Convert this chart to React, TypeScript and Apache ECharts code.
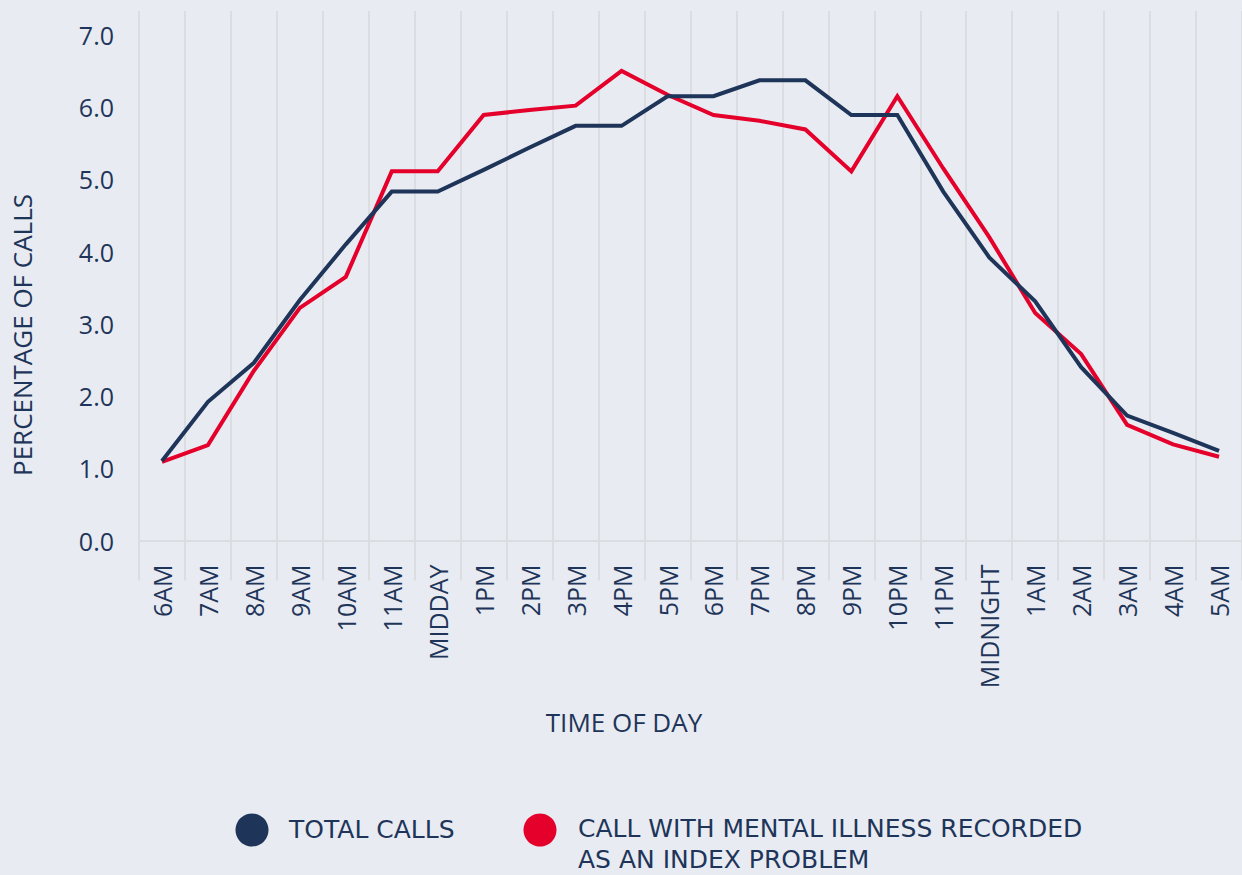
import React, { useEffect, useRef } from "react";
import * as echarts from "echarts";

const categories = ["6AM", "7AM", "8AM", "9AM", "10AM", "11AM", "MIDDAY", "1PM", "2PM", "3PM", "4PM", "5PM", "6PM", "7PM", "8PM", "9PM", "10PM", "11PM", "MIDNIGHT", "1AM", "2AM", "3AM", "4AM", "5AM"];
const totalCalls = [1.1, 1.92, 2.46, 3.33, 4.1, 4.83, 4.83, 5.13, 5.44, 5.74, 5.74, 6.15, 6.15, 6.37, 6.37, 5.89, 5.89, 4.83, 3.92, 3.31, 2.4, 1.73, 1.49, 1.24];
const mentalIllnessCalls = [1.09, 1.32, 2.35, 3.22, 3.65, 5.11, 5.11, 5.89, 5.96, 6.02, 6.5, 6.17, 5.89, 5.81, 5.69, 5.11, 6.15, 5.15, 4.2, 3.15, 2.58, 1.6, 1.33, 1.16];
const seriesNames = ["TOTAL CALLS", "CALL WITH MENTAL ILLNESS RECORDED\nAS AN INDEX PROBLEM"];
const yAxisTitle = "PERCENTAGE OF CALLS";
const xAxisTitle = "TIME OF DAY";

const NAVY = "#1e3559";
const RED = "#e4002b";
const GRID = "#dcdde1";
const BG = "#e8ebf2";
const FONT = "'Open Sans', 'Noto Sans', sans-serif";
const LEGEND_FONT = "'DejaVu Sans', sans-serif";

export default function App() {
  const ref = useRef<HTMLDivElement>(null);
  useEffect(() => {
    const chart = echarts.init(ref.current!, undefined, { renderer: "svg" });
    const redLines = seriesNames[1].split("\n");
    chart.setOption({
      animation: false,
      backgroundColor: BG,
      textStyle: { fontFamily: FONT, color: NAVY },
      grid: { left: 139, width: 1104, top: 11, bottom: 334.5, containLabel: false },
      xAxis: {
        type: "category",
        data: categories,
        boundaryGap: true,
        axisLine: { show: true, lineStyle: { color: GRID, width: 2 } },
        axisTick: { show: true, length: 40, interval: 0, lineStyle: { color: GRID, width: 2 } },
        splitLine: { show: true, interval: 0, lineStyle: { color: GRID, width: 2 } },
        axisLabel: {
          interval: 0,
          rotate: 90,
          margin: 24,
          fontSize: 25,
          color: NAVY,
          fontFamily: FONT,
        },
      },
      yAxis: {
        type: "value",
        min: 0,
        max: 7.33,
        interval: 1,
        axisLine: { show: false },
        axisTick: { show: false },
        splitLine: { show: false },
        axisLabel: {
          margin: 25,
          fontSize: 25,
          color: NAVY,
          fontFamily: FONT,
          formatter: (v: number) => (Math.abs(v - Math.round(v)) < 1e-6 ? v.toFixed(1) : ""),
        },
      },
      graphic: [
        {
          type: "text",
          x: 22,
          y: 335,
          rotation: Math.PI / 2,
          style: { text: yAxisTitle, fill: NAVY, font: `26px ${FONT}`, align: "center", verticalAlign: "middle" },
        },
        {
          type: "text",
          x: 624,
          y: 722,
          style: { text: xAxisTitle, fill: NAVY, font: `26px ${FONT}`, align: "center", verticalAlign: "middle" },
        },
        {
          type: "circle",
          shape: { cx: 252, cy: 830, r: 16.5 },
          style: { fill: NAVY },
        },
        {
          type: "text",
          x: 289,
          y: 829,
          style: { text: seriesNames[0], fill: NAVY, font: `25px ${LEGEND_FONT}`, align: "left", verticalAlign: "middle" },
        },
        {
          type: "circle",
          shape: { cx: 540, cy: 830, r: 16.5 },
          style: { fill: RED },
        },
        {
          type: "text",
          x: 578,
          y: 828,
          style: { text: redLines[0], fill: NAVY, font: `25px ${LEGEND_FONT}`, align: "left", verticalAlign: "middle" },
        },
        {
          type: "text",
          x: 578,
          y: 859,
          style: { text: redLines[1], fill: NAVY, font: `25px ${LEGEND_FONT}`, align: "left", verticalAlign: "middle" },
        },
      ],
      series: [
        {
          name: seriesNames[0],
          type: "line",
          data: totalCalls,
          symbol: "none",
          color: NAVY,
          lineStyle: { width: 4, color: NAVY, join: "miter" },
          z: 3,
        },
        {
          name: seriesNames[1],
          type: "line",
          data: mentalIllnessCalls,
          symbol: "none",
          color: RED,
          lineStyle: { width: 4, color: RED, join: "miter" },
          z: 2,
        },
      ],
    });
    return () => chart.dispose();
  }, []);
  return <div ref={ref} style={{ position: "fixed", left: 0, top: 0, width: 1242, height: 875 }} />;
}
